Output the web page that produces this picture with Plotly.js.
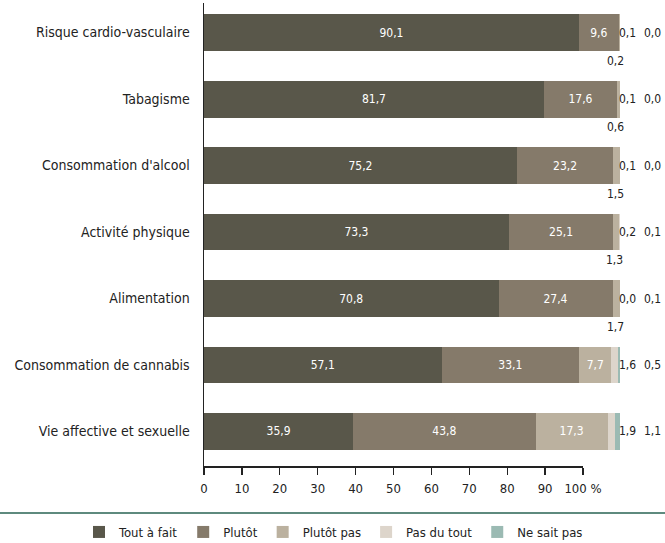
<!DOCTYPE html>
<html>
<head>
<meta charset="utf-8">
<script src="https://cdn.plot.ly/plotly-3.0.1.min.js"></script>
<style>html,body{margin:0;padding:0;background:#fff}#chart{width:665px;height:543px}</style>
</head>
<body>
<div id="chart"></div>
<script>
const categories = ["Risque cardio-vasculaire","Tabagisme","Consommation d'alcool","Activité physique","Alimentation","Consommation de cannabis","Vie affective et sexuelle"];
const toutAFait  = [90.1, 81.7, 75.2, 73.3, 70.8, 57.1, 35.9];
const plutot     = [9.6, 17.6, 23.2, 25.1, 27.4, 33.1, 43.8];
const plutotPas  = [0.2, 0.6, 1.5, 1.3, 1.7, 7.7, 17.3];
const pasDuTout  = [0.1, 0.1, 0.1, 0.2, 0.0, 1.6, 1.9];
const neSaitPas  = [0.0, 0.0, 0.0, 0.1, 0.1, 0.5, 1.1];
const seriesNames = ["Tout à fait","Plutôt","Plutôt pas","Pas du tout","Ne sait pas"];
const axisTicks = [0,10,20,30,40,50,60,70,80,90,100];
const axisTickText = ["0","10","20","30","40","50","60","70","80","90","100 %"];

const colors = ["#59574a","#857a6a","#bbb19f","#ddd5cb","#9bbab3"];
const FONT = "'DejaVu Sans Condensed','Liberation Sans Narrow',sans-serif";
const fmt = v => v.toFixed(1).replace('.', ',');

const seriesVals = [toutAFait, plutot, plutotPas, pasDuTout, neSaitPas];
const insideText = [
  toutAFait.map(fmt),
  plutot.map(fmt),
  plutotPas.map(v => v >= 5 ? fmt(v) : ""),
  pasDuTout.map(() => ""),
  neSaitPas.map(() => "")
];
const insideColor = ["#ffffff","#ffffff","#ffffff","#ffffff","#ffffff"];

const traces = seriesVals.map((vals, k) => ({
  type: "bar", orientation: "h",
  name: seriesNames[k],
  x: vals, y: categories,
  marker: {color: colors[k], line: {width: 0}},
  text: insideText[k],
  textposition: "inside",
  insidetextanchor: "middle",
  textangle: 0,
  constraintext: "none",
  textfont: {family: FONT, size: 12, color: insideColor[k]},
  hoverinfo: "skip",
  cliponaxis: false
}));
traces.push({type: "scatter", x: [], y: [], xaxis: "x2", yaxis: "y", showlegend: false, hoverinfo: "skip"});

const annotations = [];
categories.forEach((c, i) => {
  annotations.push({xref: "x", yref: "y", x: 101.9, y: c, text: fmt(pasDuTout[i]), showarrow: false,
    font: {family: FONT, size: 12, color: "#222"}, xanchor: "center", yanchor: "middle"});
  annotations.push({xref: "x", yref: "y", x: 107.9, y: c, text: fmt(neSaitPas[i]), showarrow: false,
    font: {family: FONT, size: 12, color: "#222"}, xanchor: "center", yanchor: "middle"});
  if (plutotPas[i] < 5) {
    annotations.push({xref: "x", yref: "y", x: toutAFait[i] + plutot[i] + plutotPas[i], y: c,
      text: fmt(plutotPas[i]), showarrow: false, xshift: -4, yshift: -28,
      font: {family: FONT, size: 12, color: "#222"}, xanchor: "center", yanchor: "middle"});
  }
});

const ML = 204, MR = 5, MT = 3, MB = 77;
const PW = 665 - ML - MR, PH = 543 - MT - MB;

const layout = {
  width: 665, height: 543,
  margin: {l: ML, r: MR, t: MT, b: MB, pad: 0, autoexpand: false},
  paper_bgcolor: "#fff", plot_bgcolor: "rgba(0,0,0,0)",
  font: {family: FONT, size: 13, color: "#222"},
  barmode: "stack",
  bargap: 0.444,
  showlegend: true,
  legend: {orientation: "h", x: (79 - ML) / PW, xanchor: "left", y: -(517 - (MT + PH)) / PH, yanchor: "top",
    font: {family: FONT, size: 13, color: "#222"}, traceorder: "normal", itemclick: false, bgcolor: "rgba(0,0,0,0)",
    borderwidth: 0, tracegroupgap: 0},
  xaxis: {range: [0, PW / 4.16], showgrid: false, zeroline: false, showline: false, showticklabels: false, ticks: "", fixedrange: true},
  xaxis2: {domain: [0, 379 / PW], anchor: "y", range: [0, 100], tickvals: axisTicks, ticktext: axisTickText,
    showline: true, linecolor: "#222", linewidth: 1.5, ticks: "outside", ticklen: 7, tickwidth: 1.2, tickcolor: "#222",
    ticklabelstandoff: 3,
    showgrid: false, zeroline: false, tickfont: {family: FONT, size: 13, color: "#222"}, fixedrange: true},
  yaxis: {type: "category", range: [6.519, -0.444], showgrid: false, zeroline: false, showline: true, linecolor: "#222",
    linewidth: 1.5, ticks: "", tickfont: {family: FONT, size: 14, color: "#222"}, ticklabelstandoff: 10, fixedrange: true},
  annotations: annotations,
  shapes: [{type: "line", xref: "paper", yref: "paper", x0: -ML / PW, x1: 1 + MR / PW,
    y0: -(513 - (MT + PH)) / PH, y1: -(513 - (MT + PH)) / PH, line: {color: "#5e8a7e", width: 2}}]
};

Plotly.newPlot("chart", traces, layout, {displayModeBar: false, staticPlot: true});
</script>
</body>
</html>
